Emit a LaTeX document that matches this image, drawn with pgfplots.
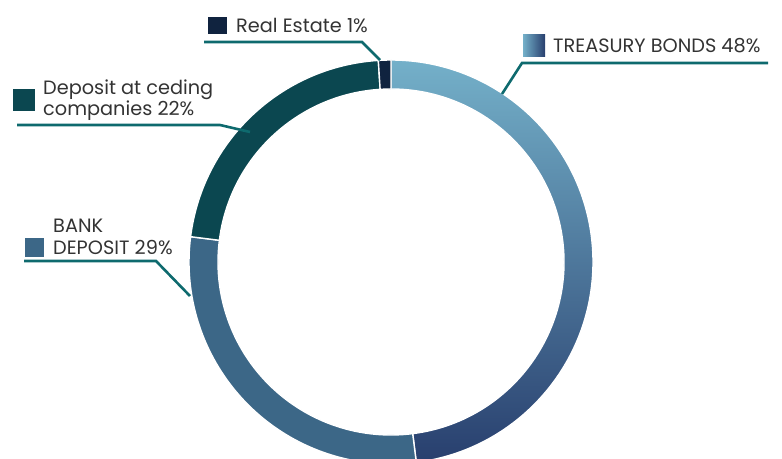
\documentclass[border=0pt]{standalone}
\usepackage{pgfplots}
\usepackage{pgfplotstable}
\pgfplotsset{compat=1.18}
\usepackage{fontspec}
\setmainfont{Poppins}
\definecolor{txt}{HTML}{333333}
\definecolor{lead}{HTML}{0E6A6E}
\definecolor{trTop}{HTML}{74B0C9}
\definecolor{trBot}{HTML}{283F6E}
\definecolor{bank}{HTML}{3C6787}
\definecolor{ced}{HTML}{0B4750}
\definecolor{real}{HTML}{10233F}

\pgfplotstableread{
name share
Treasury 48
Bank 29
Ceding 22
RealEstate 1
}\sharetable

\newcommand\seg[3]{%
  \path[#3] (axis cs:391,196) ++(#1:202pt)
    arc[start angle=#1,end angle=#2,radius=202pt]
    -- ++(#2:-29pt)
    arc[start angle=#2,end angle=#1,radius=173pt] -- cycle;}

\begin{document}
\begin{tikzpicture}
\pgfplotstablegetelem{0}{share}\of\sharetable \let\sA\pgfplotsretval
\pgfplotstablegetelem{1}{share}\of\sharetable \let\sB\pgfplotsretval
\pgfplotstablegetelem{2}{share}\of\sharetable \let\sC\pgfplotsretval
\pgfplotstablegetelem{3}{share}\of\sharetable \let\sD\pgfplotsretval
\pgfmathsetmacro{\aA}{90}
\pgfmathsetmacro{\aB}{\aA-3.6*\sA}
\pgfmathsetmacro{\aC}{\aB-3.6*\sB}
\pgfmathsetmacro{\aD}{\aC-3.6*\sC}
\pgfmathsetmacro{\aE}{\aD-3.6*\sD}
\useasboundingbox (0,0) rectangle (782pt,458pt);
\begin{axis}[at={(0,0)}, anchor=south west, x=1pt, y=1pt,
  xmin=0, xmax=782, ymin=0, ymax=458, hide axis, scale only axis]
  \seg{\aA}{\aB}{top color=trTop, bottom color=trBot, draw=white, line width=1.4pt}
  \seg{\aB}{\aC}{fill=bank, draw=white, line width=1.4pt}
  \seg{\aC}{\aD}{fill=ced, draw=white, line width=1.4pt}
  \seg{\aD}{\aE}{fill=real, draw=white, line width=1.4pt}
  % leader lines
  \draw[lead, line width=2.6pt] (axis cs:502,{458-94}) -- (axis cs:522,{458-63}) -- (axis cs:768,{458-63});
  \draw[lead, line width=2.6pt] (axis cs:380,{458-60}) -- (axis cs:362,{458-42}) -- (axis cs:204,{458-42});
  \draw[lead, line width=2.6pt] (axis cs:250,{458-132}) -- (axis cs:220,{458-125}) -- (axis cs:17,{458-125});
  \draw[lead, line width=2.6pt] (axis cs:190,{458-296}) -- (axis cs:156,{458-261}) -- (axis cs:24,{458-261});
  % legend squares
  \shade[left color=trTop, right color=trBot] (axis cs:523,{458-35}) rectangle (axis cs:545,{458-57});
  \fill[real] (axis cs:208,{458-17}) rectangle (axis cs:227,{458-34});
  \fill[ced] (axis cs:13,{458-89}) rectangle (axis cs:35,{458-111});
  \fill[bank] (axis cs:25,{458-238}) rectangle (axis cs:44,{458-257});
  % labels
  \node[anchor=base west, inner sep=0pt, text=txt, font=\fontsize{19.3}{22}\selectfont] at (axis cs:236,{458-33}) {Real Estate 1\%};
  \node[anchor=base west, inner sep=0pt, text=txt, font=\fontsize{19.3}{22}\selectfont] at (axis cs:553,{458-53}) {TREASURY BONDS 48\%};
  \node[anchor=base west, inner sep=0pt, text=txt, font=\fontsize{19.3}{22}\selectfont] at (axis cs:43,{458-95}) {Deposit at ceding};
  \node[anchor=base west, inner sep=0pt, text=txt, font=\fontsize{19.3}{22}\selectfont] at (axis cs:43,{458-116}) {companies 22\%};
  \node[anchor=base west, inner sep=0pt, text=txt, font=\fontsize{19.3}{22}\selectfont] at (axis cs:53,{458-233}) {BANK};
  \node[anchor=base west, inner sep=0pt, text=txt, font=\fontsize{19.3}{22}\selectfont] at (axis cs:53,{458-255}) {DEPOSIT 29\%};
\end{axis}
\end{tikzpicture}
\end{document}
